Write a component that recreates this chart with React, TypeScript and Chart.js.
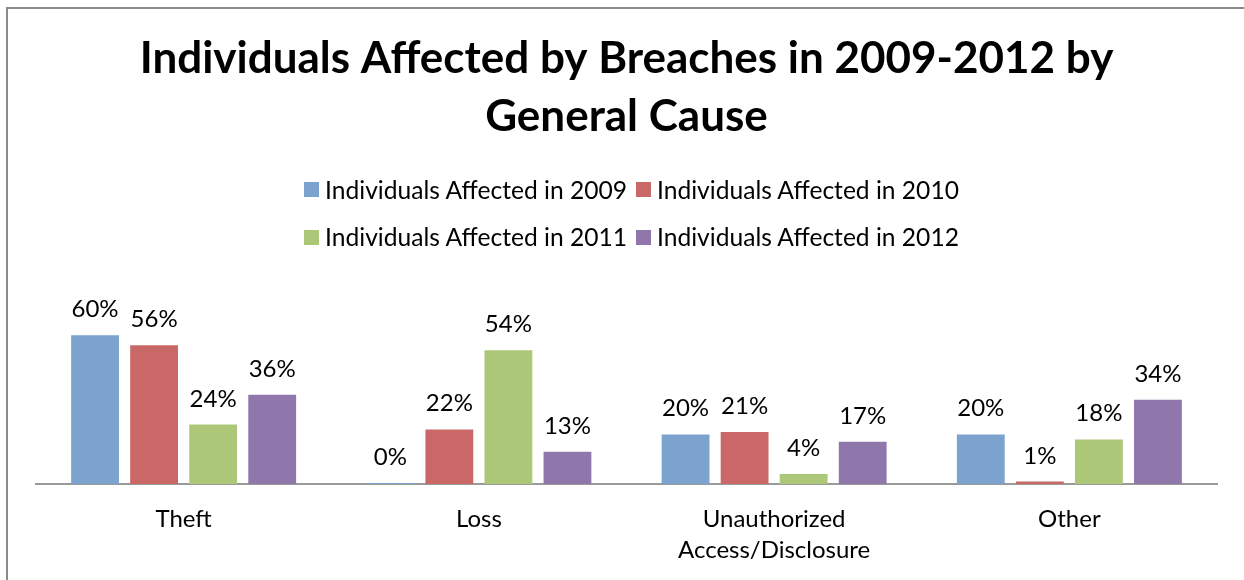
import React, { useEffect, useRef } from "react";
import { Chart, registerables } from "chart.js";

Chart.register(...registerables);

const categories: (string | string[])[] = ["Theft", "Loss", ["Unauthorized", "Access/Disclosure"], "Other"];
const seriesNames = [
  "Individuals Affected in 2009",
  "Individuals Affected in 2010",
  "Individuals Affected in 2011",
  "Individuals Affected in 2012",
];
const values2009 = [60, 0.45, 20, 20];
const values2010 = [56, 22, 21, 1];
const values2011 = [24, 54, 4, 18];
const values2012 = [36, 13, 17, 34];
const seriesColors = ["#7ca2ce", "#c96866", "#adc778", "#8f77ac"];
const titleLines = ["Individuals Affected by Breaches in 2009-2012 by", "General Cause"];

const FONT = "Lato, 'Noto Sans', sans-serif";
const TEXT_SIZE = 24;
const LEGEND_SIZE = 24.6;

const dataLabelPlugin = {
  id: "barValueLabels",
  afterDatasetsDraw(chart: any) {
    const ctx = chart.ctx;
    ctx.save();
    ctx.font = `${TEXT_SIZE}px ${FONT}`;
    ctx.fillStyle = "#000";
    ctx.textAlign = "center";
    ctx.textBaseline = "alphabetic";
    chart.data.datasets.forEach((ds: any, di: number) => {
      const meta = chart.getDatasetMeta(di);
      meta.data.forEach((bar: any, i: number) => {
        const v = ds.data[i];
        ctx.fillText(`${Math.round(v)}%`, bar.x, bar.y - 18);
      });
    });
    ctx.restore();
  },
};

export default function App() {
  const canvasRef = useRef<HTMLCanvasElement>(null);

  useEffect(() => {
    document.body.style.margin = "0";
    const canvas = canvasRef.current;
    if (!canvas) return;
    const allValues = [values2009, values2010, values2011, values2012];
    const chart = new Chart(canvas, {
      type: "bar",
      data: {
        labels: categories as any,
        datasets: allValues.map((vals, i) => ({
          label: seriesNames[i],
          data: vals,
          backgroundColor: seriesColors[i],
          borderWidth: 0,
          categoryPercentage: 0.8,
          barPercentage: 0.81,
        })),
      },
      options: {
        responsive: false,
        animation: false,
        devicePixelRatio: 1,
        layout: { padding: { left: 36, right: 27, top: 0, bottom: 0 } },
        plugins: {
          legend: { display: false },
          tooltip: { enabled: false },
          title: {
            display: true,
            text: titleLines,
            color: "#000",
            font: { family: FONT, size: 44, weight: "bold", lineHeight: 58 / 44 },
            padding: { top: 29.5, bottom: 165 },
          },
        },
        scales: {
          x: {
            grid: { display: false, drawTicks: false },
            border: { display: true, color: "#9a9a9a", width: 2 },
            ticks: {
              color: "#000",
              padding: 19.5,
              font: { family: FONT, size: TEXT_SIZE, lineHeight: 31 / TEXT_SIZE },
              maxRotation: 0,
              autoSkip: false,
            },
            afterFit(scale: any) {
              scale.height = 96;
            },
          },
          y: {
            display: false,
            min: 0,
            max: 70,
          },
        },
      },
      plugins: [dataLabelPlugin],
    });
    return () => chart.destroy();
  }, []);

  const legendRow = (idx: number[], top: number) => (
    <div
      style={{
        position: "absolute",
        top,
        left: 0,
        width: 1244,
        height: 20,
        display: "flex",
        justifyContent: "center",
        alignItems: "center",
        paddingLeft: 19,
        boxSizing: "border-box",
      }}
    >
      {idx.map((i, k) => (
        <div key={i} style={{ display: "flex", alignItems: "center", marginLeft: k > 0 ? 9 : 0 }}>
          <span style={{ width: 15, height: 15, background: seriesColors[i], display: "inline-block", marginRight: 6 }} />
          <span style={{ fontFamily: FONT, fontSize: LEGEND_SIZE, color: "#000", lineHeight: "20px", whiteSpace: "nowrap" }}>
            {seriesNames[i]}
          </span>
        </div>
      ))}
    </div>
  );

  return (
    <div style={{ position: "relative", width: 1244, height: 580, overflow: "hidden", background: "#fff" }}>
      <canvas ref={canvasRef} width={1244} height={580} style={{ position: "absolute", left: 0, top: 0 }} />
      <div
        style={{
          position: "absolute",
          left: 6,
          top: 7,
          width: 1400,
          height: 700,
          borderTop: "2px solid #8a8a8a",
          borderLeft: "2px solid #8a8a8a",
          pointerEvents: "none",
        }}
      />
      {legendRow([0, 1], 179.5)}
      {legendRow([2, 3], 227)}
    </div>
  );
}
